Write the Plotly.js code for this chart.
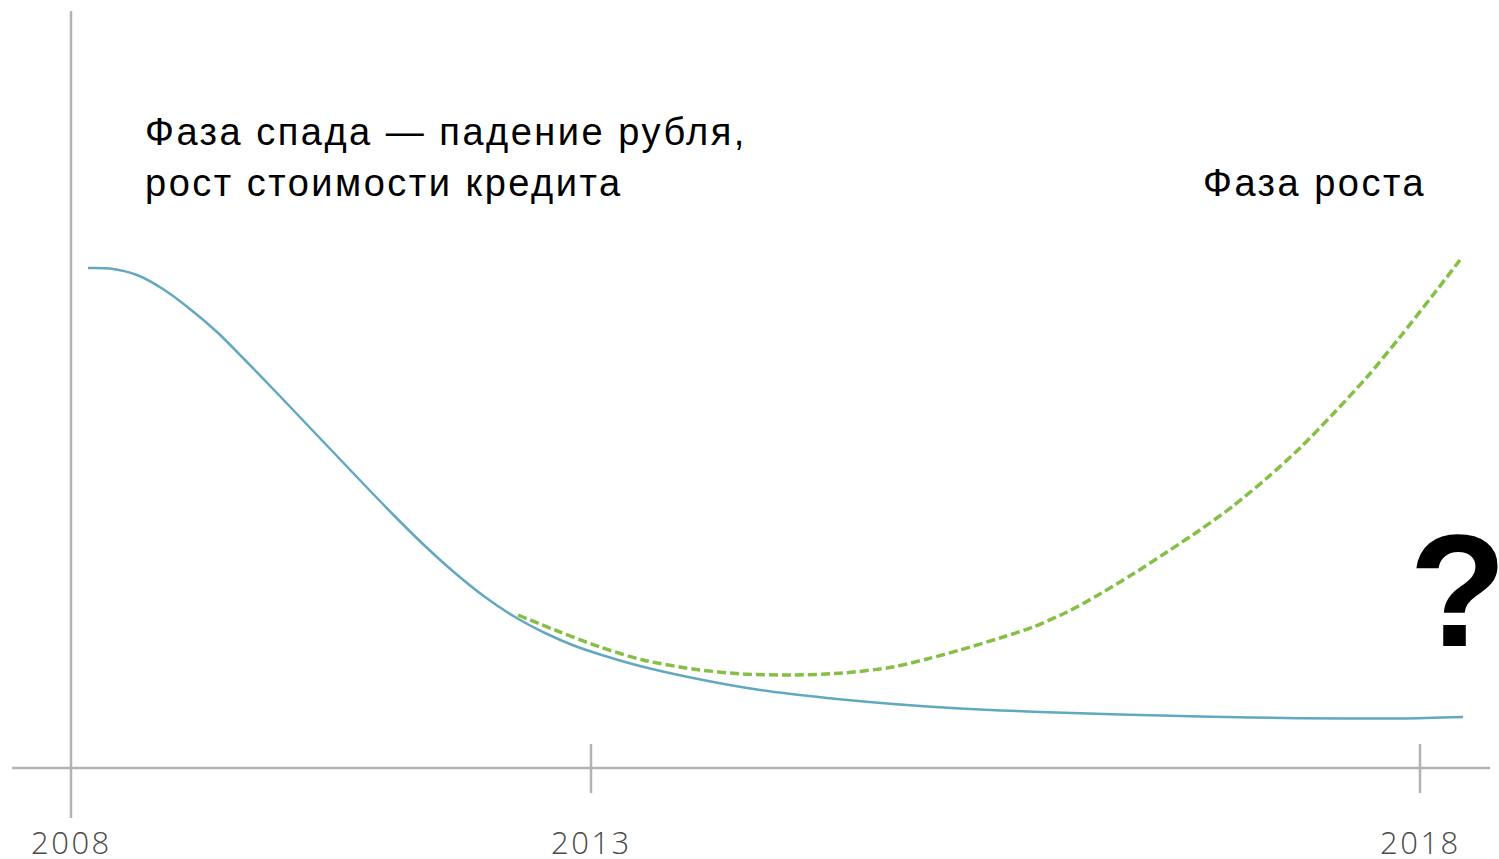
<!DOCTYPE html>
<html><head><meta charset="utf-8">
<script src="https://cdn.plot.ly/plotly-3.0.1.min.js"></script>
<style>
html,body{margin:0;padding:0;background:#fff;}
#chart{width:1499px;height:859px;}
text.annotation-text{letter-spacing:2.5px;}
</style>
</head><body><div id="chart"></div>
<script>
// Schematic timeline units (the original picture is not linear in years)
const tickPositions = [0, 52, 134.9];
const tickLabels = ["2008", "2013", "2018"];

// Blue line: decline phase
const declineX = [1.7,3.9,6.6,9.2,11.9,14.6,17.4,20.4,23.4,26.4,29.4,32.4,35.4,38.4,41.4,44.4,47.4,50.4,53.4,56.9,62.2,68.9,75.6,82.2,88.9,96.9,104.9,112.9,122.9,132.9,139.2];
const declineY = [50.0,49.95,49.3,47.9,45.9,43.6,40.8,37.7,34.55,31.4,28.25,25.15,22.2,19.5,17.1,15.1,13.5,12.2,11.2,10.2,9.0,7.8,7.0,6.4,5.95,5.6,5.35,5.15,4.97,4.95,5.1];

// Green dashed line: growth scenario
const growthX = [44.7,48.9,52.9,57.2,62.2,67.2,72.2,77.2,82.2,85.6,88.9,92.9,96.2,99.6,102.9,106.2,109.6,112.9,116.2,119.6,122.9,126.2,129.6,132.9,136.2,138.9];
const growthY = [15.3,13.6,12.1,10.8,9.9,9.4,9.3,9.5,10.1,10.9,11.8,13.0,14.1,15.6,17.4,19.4,21.6,23.8,26.2,29.0,32.0,35.4,39.1,43.1,47.3,50.8];

const labelDecline1 = "Фаза спада — падение рубля,";
const labelDecline2 = "рост стоимости кредита";
const labelGrowth = "Фаза роста";
const labelQuestion = "?";

const axisColor = "#b3b3b3";
const shapes = [
  {type:"line", x0:0, x1:0, y0:-5.0, y1:75.7, line:{color:axisColor, width:2.5}},
  {type:"line", x0:-5.9, x1:141.9, y0:0, y1:0, line:{color:axisColor, width:2.5}}
];
tickPositions.slice(1).forEach(p => shapes.push({type:"line", x0:p, x1:p, y0:-2.5, y1:2.4, line:{color:axisColor, width:2.5}}));

const annotations = tickPositions.map((p,i) => ({
  x:p, y:-7.4, xref:"x", yref:"y", text:tickLabels[i], showarrow:false,
  xanchor:"center", yanchor:"middle",
  font:{family:"Open Sans, sans-serif", size:31, color:"#4a4a4a", weight:300}
}));
const txtFont = {family:"Liberation Sans, Arial, sans-serif", size:38, color:"#000"};
annotations.push(
  {x:7.2, y:63.6, text:labelDecline1, showarrow:false, xanchor:"left", yanchor:"middle", font:txtFont},
  {x:7.2, y:58.5, text:labelDecline2, showarrow:false, xanchor:"left", yanchor:"middle", font:txtFont},
  {x:113.0, y:58.5, text:labelGrowth, showarrow:false, xanchor:"left", yanchor:"middle", font:txtFont},
  {x:138.8, y:17.8, text:labelQuestion, showarrow:false, xanchor:"center", yanchor:"middle",
   font:{family:"Liberation Sans, Arial, sans-serif", size:160, color:"#000", weight:700}}
);

const traces = [
  {x:declineX, y:declineY, type:"scatter", mode:"lines", line:{color:"#62a8bf", width:2.5, shape:"spline", smoothing:0.8}, hoverinfo:"skip"},
  {x:growthX, y:growthY, type:"scatter", mode:"lines", line:{color:"#86bf45", width:3.5, dash:"9px,4px", shape:"spline", smoothing:0.8}, hoverinfo:"skip"}
];

const layout = {
  width:1499, height:859,
  margin:{l:0, r:0, t:0, b:0, pad:0},
  paper_bgcolor:"#fff", plot_bgcolor:"#fff",
  showlegend:false,
  xaxis:{range:[-7.1, 142.8], visible:false, fixedrange:true},
  yaxis:{range:[-9.1, 76.8], visible:false, fixedrange:true},
  shapes:shapes,
  annotations:annotations
};
Plotly.newPlot("chart", traces, layout, {staticPlot:true});
</script></body></html>
